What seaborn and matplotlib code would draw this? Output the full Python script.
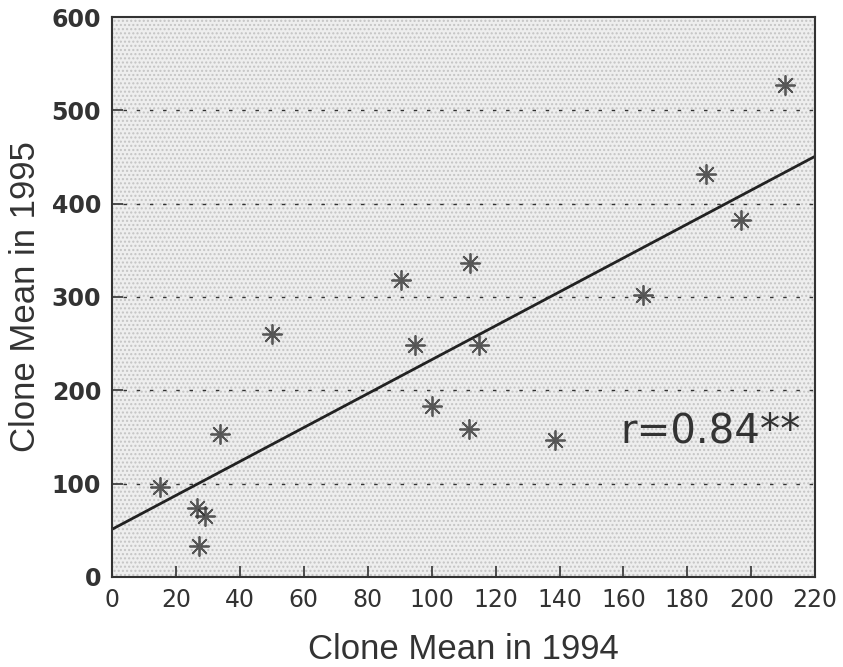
import matplotlib
matplotlib.use("Agg")
import matplotlib.pyplot as plt
import seaborn as sns
import numpy as np
import pandas as pd

# Data
mean_1994 = [15.0, 26.5, 29.1, 27.2, 33.8, 50.1, 90.5, 94.8, 100.2, 112.0,
             111.7, 114.9, 138.7, 166.2, 185.9, 196.9, 210.6]
mean_1995 = [96.7, 73.6, 65.4, 33.2, 153.0, 260.0, 318.0, 248.6, 183.0, 336.0,
             158.6, 248.6, 146.8, 302.0, 431.8, 382.5, 527.0]
x_ticks = list(range(0, 221, 20))
y_ticks = list(range(0, 601, 100))
r_label = "r=0.84**"

df = pd.DataFrame({"x": mean_1994, "y": mean_1995})

sns.set_theme(style="white")
plt.rcParams['font.family'] = ['Liberation Sans', 'DejaVu Sans']

fig = plt.figure(figsize=(8.43, 6.67), dpi=100)
ax = fig.add_axes([0.133, 0.135, 0.834, 0.8395])
ax.set_facecolor('#eeeeee')
ax.set_xlim(0, 220)
ax.set_ylim(0, 600)

# stipple texture
ax.add_patch(plt.Rectangle((0, 0), 1, 1, transform=ax.transAxes, facecolor='none',
                           edgecolor='#c4c4c4', hatch='....', linewidth=0, zorder=0))

for yv in y_ticks[1:-1]:
    ax.axhline(yv, color='#333333', linewidth=1.0, linestyle=(0, (2.5, 7)), zorder=1, xmin=0.015)

sns.regplot(data=df, x="x", y="y", ax=ax, ci=None, truncate=False, marker=(8, 2, 0),
            scatter_kws=dict(s=190, color='#333333', linewidths=1.3, zorder=3),
            line_kws=dict(color='#222222', linewidth=2.0, zorder=2))

ax.set_xlim(0, 220)
ax.set_ylim(0, 600)
ax.set_xticks(x_ticks)
ax.set_yticks(y_ticks)
ax.tick_params(axis='both', direction='in', length=8, width=1.2, color='#333333',
               top=False, right=False, bottom=True, left=True)
ax.tick_params(axis='x', labelsize=17, labelcolor='#333333', pad=8)
ax.tick_params(axis='y', labelsize=17, labelcolor='#333333', pad=8)
for lab in ax.get_xticklabels():
    lab.set_fontfamily('DejaVu Sans')
for lab in ax.get_yticklabels():
    lab.set_fontfamily('DejaVu Sans')
    lab.set_fontweight('bold')

for s in ax.spines.values():
    s.set_visible(True)
    s.set_color('#333333')
    s.set_linewidth(1.5)

ax.set_xlabel("Clone Mean in 1994", fontsize=25, color='#333333', labelpad=15)
ax.set_ylabel("Clone Mean in 1995", fontsize=25, color='#333333', labelpad=7)

ax.text(159, 143.6, r_label, fontsize=29, color='#333333', va='baseline', ha='left',
        family='DejaVu Sans')

fig.savefig("out.png", dpi=100)
